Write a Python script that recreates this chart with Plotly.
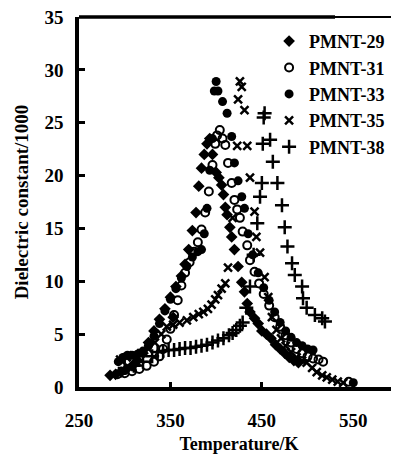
import plotly.graph_objects as go

# ---------------- data ----------------
t29 = [284, 290, 296, 302, 308, 314, 320, 326, 332, 338, 344, 350, 353, 356, 362, 366, 370, 374, 378,
       381, 384, 387, 390, 393, 396, 400, 403, 406, 408, 410, 412, 415, 417, 420, 424, 428, 431, 434,
       437, 442, 446, 450, 455, 460, 465, 470, 475, 480, 485, 490]
v29 = [1.1, 1.2, 1.4, 1.7, 2.0, 2.5, 3.2, 4.2, 5.3, 6.4, 7.4, 8.5, 6.6, 9.5, 10.5, 11.6, 13.0, 14.8, 16.5,
       19.0, 20.7, 22.0, 23.0, 23.5, 22.0, 20.3, 19.8, 19.1, 18.2, 17.0, 16.3, 15.1, 14.2, 13.0, 11.4, 9.9, 9.0, 7.9,
       7.1, 6.5, 6.0, 5.3, 5.0, 4.6, 4.0, 3.6, 3.2, 2.8, 2.5, 2.3]

t31 = [292, 300, 308, 316, 324, 332, 338, 342, 346, 350, 354, 358, 362, 366, 371, 376, 380, 384, 388,
       392, 396, 399, 401, 404, 407, 410, 413, 417, 420, 423, 426, 429, 434, 437, 442, 447, 452, 458,
       464, 470, 476, 482, 488, 494, 500, 506, 512, 517, 545]
v31 = [1.2, 1.3, 1.5, 1.7, 2.0, 2.4, 2.9, 3.6, 4.5, 5.5, 6.8, 8.2, 9.6, 10.8, 11.8, 12.8, 13.7, 14.9, 16.5,
       18.5, 21.0, 23.0, 23.8, 24.3, 23.5, 22.9, 21.2, 19.3, 17.7, 16.8, 16.0, 14.7, 13.4, 12.0, 10.9, 9.8, 8.8, 7.7,
       6.6, 5.7, 4.9, 4.2, 3.6, 3.2, 2.9, 2.7, 2.6, 2.4, 0.5]

t33 = [293, 298, 303, 308, 314, 320, 326, 332, 338, 344, 350, 356, 362, 368, 374, 380, 384, 387, 390,
       393, 396, 398, 400, 402, 407, 412, 417, 420, 424, 428, 431, 435, 440, 446, 452, 458, 464, 470,
       476, 482, 488, 494, 500, 506, 550]
v33 = [2.4, 2.8, 3.0, 3.0, 3.1, 3.4, 3.9, 4.8, 6.0, 7.2, 8.3, 9.3, 10.3, 11.4, 12.3, 12.8, 13.0, 14.5, 16.9,
       20.5, 23.5, 28.0, 28.9, 28.0, 27.0, 25.9, 23.7, 21.2, 19.5, 18.0, 16.9, 14.5, 12.5, 10.8, 9.4, 8.2, 7.1, 6.1,
       5.3, 4.7, 4.2, 3.9, 3.6, 3.5, 0.4]

t35 = [295, 302, 310, 318, 326, 333, 340, 346, 353, 360, 368, 375, 381, 386, 391, 395, 399, 402, 406,
       410, 413, 418, 423, 424, 426, 428, 431, 434, 437, 442, 444, 448, 453, 457, 461, 466, 471, 476,
       482, 488, 494, 499, 505, 510, 516, 521, 527, 533, 539]
v35 = [2.6, 2.8, 3.0, 3.2, 3.6, 4.2, 5.0, 5.7, 5.9, 6.1, 6.3, 6.6, 6.9, 7.1, 7.4, 7.8, 8.3, 8.7, 9.3,
       9.8, 11.3, 16.0, 22.8, 27.2, 28.9, 28.4, 26.2, 22.8, 19.8, 16.6, 14.2, 12.7, 10.4, 8.5, 6.6, 5.4, 4.6, 3.9,
       3.3, 2.8, 2.5, 2.3, 1.8, 1.4, 1.1, 0.9, 0.7, 0.5, 0.4]

t38 = [300, 310, 320, 330, 336, 342, 348, 354, 360, 366, 372, 378, 384, 390, 396, 402, 408, 414, 418,
       422, 426, 429, 433, 437, 441, 445, 448, 450, 451, 452, 453, 459, 462, 467, 472, 475, 478, 483,
       486, 494, 495, 499, 508, 516, 519]
v38 = [1.8, 2.0, 2.4, 2.9, 3.3, 3.4, 3.5, 3.5, 3.6, 3.7, 3.7, 3.8, 3.9, 4.0, 4.2, 4.4, 4.6, 4.9, 5.1,
       5.4, 5.8, 6.1, 7.5, 9.5, 12.5, 15.5, 18.0, 19.3, 23.0, 25.5, 25.9, 23.4, 21.3, 19.3, 17.2, 15.1, 13.3, 11.7,
       10.6, 9.5, 8.4, 7.5, 6.8, 6.5, 6.2]

x_ticks = [250, 350, 450, 550]
y_ticks = [0, 5, 10, 15, 20, 25, 30, 35]

FONT = "Liberation Serif"

series = [
    ("PMNT-29", t29, v29, dict(symbol="diamond", size=9, color="black")),
    ("PMNT-31", t31, v31, dict(symbol="circle-open", size=8, color="black", line=dict(width=2, color="black"))),
    ("PMNT-33", t33, v33, dict(symbol="circle", size=9, color="black")),
    ("PMNT-35", t35, v35, dict(symbol="x-thin", size=8, color="black", line=dict(width=2.5, color="black"))),
    ("PMNT-38", t38, v38, dict(symbol="cross-thin", size=10, color="black", line=dict(width=2.5, color="black"))),
]

fig = go.Figure()
for i, (name, t, v, mk) in enumerate(series):
    fig.add_trace(go.Scatter(x=t, y=v, mode="markers", name=f"<b>{name}</b>", marker=mk,
                             legendgroup=f"g{i}"))

# the page body adds an 8px offset, so the figure is 8px smaller than the window
fig.update_layout(
    width=391, height=449,
    margin=dict(l=71, r=0, t=9, b=70, autoexpand=False),
    paper_bgcolor="white", plot_bgcolor="white",
    font=dict(family=FONT, size=18, color="black"),
    showlegend=True,
    legend=dict(x=0.594, y=0.984, xanchor="left", yanchor="top",
                bgcolor="rgba(0,0,0,0)", borderwidth=0,
                font=dict(family=FONT, size=18, color="black"),
                tracegroupgap=0, itemwidth=30),
    shapes=[
        dict(type="line", xref="paper", yref="paper", x0=0, x1=0.8, y0=1, y1=1,
             line=dict(color="black", width=3.5)),
        dict(type="line", xref="paper", yref="paper", x0=0.8, x1=1, y0=1, y1=1,
             line=dict(color="black", width=2)),
    ],
)
fig.update_xaxes(
    range=[250, 600], tickvals=x_ticks, ticktext=[f"<b>{v}</b>" for v in x_ticks],
    showgrid=False, zeroline=False, automargin=False,
    showline=True, linecolor="black", linewidth=3.5,
    ticks="inside", ticklen=5, tickwidth=2.5, tickcolor="black",
    tickfont=dict(family=FONT, size=19), ticklabeloverflow="allow",
    ticklabelstandoff=13,
    title=dict(text="<b>Temperature/K</b>", font=dict(family=FONT, size=18), standoff=9),
)
fig.update_yaxes(
    range=[0, 35], tickvals=y_ticks, ticktext=[f"<b>{v}</b>" for v in y_ticks],
    showgrid=False, zeroline=False, automargin=False,
    showline=True, linecolor="black", linewidth=3.5,
    ticks="inside", ticklen=6, tickwidth=2.5, tickcolor="black",
    tickfont=dict(family=FONT, size=19), ticklabeloverflow="allow",
    ticklabelstandoff=8,
    title=dict(text="<b>Dielectric constant/1000</b>", font=dict(family=FONT, size=19), standoff=12),
)

fig.write_html("out.html")
